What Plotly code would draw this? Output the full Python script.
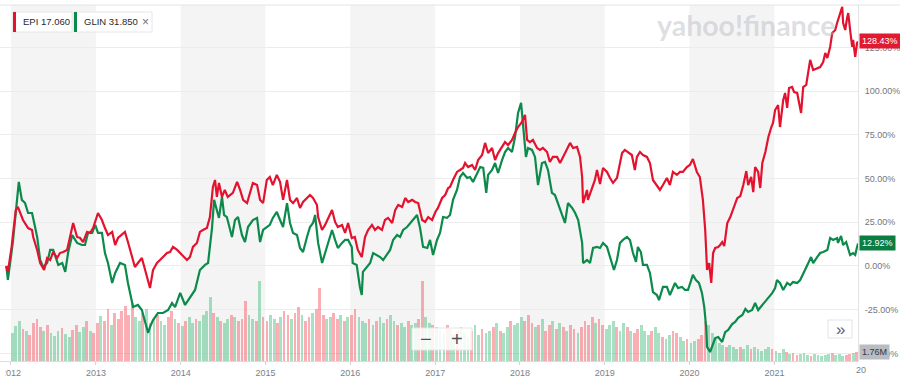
import plotly.graph_objects as go
import pandas as pd

# ---------------- data ----------------
epi_dates = [
    "2011-12-12", "2011-12-19", "2012-01-04", "2012-01-22", "2012-01-31", "2012-02-09", "2012-02-22", "2012-03-15",
    "2012-04-01", "2012-04-06", "2012-04-23", "2012-05-06", "2012-05-23", "2012-06-05", "2012-06-18", "2012-07-01",
    "2012-07-18", "2012-07-30", "2012-08-13", "2012-08-30", "2012-09-12", "2012-09-25", "2012-10-12", "2012-10-25",
    "2012-11-07", "2012-11-24", "2012-12-07", "2012-12-20", "2013-01-10", "2013-01-27", "2013-02-09", "2013-02-22",
    "2013-03-12", "2013-03-25", "2013-04-06", "2013-04-23", "2013-05-06", "2013-05-19", "2013-06-05", "2013-06-18",
    "2013-07-01", "2013-07-18", "2013-08-01", "2013-08-22", "2013-09-04", "2013-09-21", "2013-10-04", "2013-10-17",
    "2013-11-03", "2013-11-16", "2013-11-29", "2013-12-17", "2013-12-30", "2014-01-11", "2014-01-28", "2014-02-10",
    "2014-02-23", "2014-03-12", "2014-03-25", "2014-04-07", "2014-04-24", "2014-05-07", "2014-05-16", "2014-05-20",
    "2014-05-29", "2014-06-06", "2014-06-15", "2014-06-28", "2014-07-10", "2014-07-23", "2014-08-14", "2014-09-01",
    "2014-09-14", "2014-09-27", "2014-10-14", "2014-10-27", "2014-11-08", "2014-11-26", "2014-12-09", "2014-12-22",
    "2015-01-07", "2015-01-20", "2015-02-02", "2015-02-19", "2015-03-05", "2015-03-18", "2015-04-04", "2015-04-17",
    "2015-04-30", "2015-05-17", "2015-05-30", "2015-06-12", "2015-06-29", "2015-07-12", "2015-07-25", "2015-08-11",
    "2015-08-16", "2015-09-02", "2015-09-15", "2015-09-28", "2015-10-15", "2015-10-28", "2015-11-09", "2015-11-27",
    "2015-12-10", "2015-12-23", "2016-01-08", "2016-01-21", "2016-02-03", "2016-02-20", "2016-03-05", "2016-03-18",
    "2016-04-04", "2016-04-17", "2016-04-30", "2016-05-17", "2016-05-30", "2016-06-12", "2016-06-30", "2016-07-13",
    "2016-07-26", "2016-08-12", "2016-08-25", "2016-09-07", "2016-09-24", "2016-10-07", "2016-10-20", "2016-11-06",
    "2016-11-19", "2016-12-02", "2016-12-19", "2017-01-02", "2017-01-13", "2017-01-31", "2017-02-13", "2017-02-26",
    "2017-03-06", "2017-03-19", "2017-04-05", "2017-04-18", "2017-05-01", "2017-05-10", "2017-05-23", "2017-06-09",
    "2017-06-22", "2017-07-05", "2017-07-22", "2017-08-04", "2017-08-17", "2017-09-03", "2017-09-16", "2017-09-29",
    "2017-10-16", "2017-10-29", "2017-11-11", "2017-11-28", "2017-12-11", "2017-12-24", "2018-01-10", "2018-01-23",
    "2018-02-01", "2018-02-13", "2018-02-26", "2018-03-16", "2018-03-28", "2018-04-10", "2018-04-28", "2018-05-10",
    "2018-05-23", "2018-06-10", "2018-06-23", "2018-07-06", "2018-07-23", "2018-08-05", "2018-08-18", "2018-09-04",
    "2018-09-17", "2018-09-26", "2018-09-30", "2018-10-17", "2018-10-21", "2018-11-07", "2018-11-20", "2018-11-29",
    "2018-12-12", "2018-12-25", "2019-01-11", "2019-01-24", "2019-02-06", "2019-02-23", "2019-03-08", "2019-03-17",
    "2019-03-29", "2019-04-11", "2019-04-28", "2019-05-11", "2019-05-20", "2019-06-02", "2019-06-15", "2019-07-02",
    "2019-07-15", "2019-07-28", "2019-08-14", "2019-08-27", "2019-09-09", "2019-09-26", "2019-10-09", "2019-10-22",
    "2019-11-08", "2019-11-21", "2019-12-04", "2019-12-21", "2020-01-03", "2020-01-16", "2020-02-02", "2020-02-15",
    "2020-02-28", "2020-03-09", "2020-03-17", "2020-03-26", "2020-04-04", "2020-04-12", "2020-04-21", "2020-05-04",
    "2020-05-12", "2020-05-21", "2020-05-30", "2020-06-12", "2020-06-25", "2020-07-08", "2020-07-25", "2020-08-07",
    "2020-08-20", "2020-09-02", "2020-09-10", "2020-09-23", "2020-10-02", "2020-10-10", "2020-10-23", "2020-11-01",
    "2020-11-10", "2020-11-23", "2020-12-06", "2020-12-19", "2020-12-26", "2021-01-04", "2021-01-17", "2021-01-25",
    "2021-02-08", "2021-02-16", "2021-02-25", "2021-03-05", "2021-03-18", "2021-03-27", "2021-04-09", "2021-04-26",
    "2021-05-05", "2021-05-18", "2021-05-27", "2021-06-04", "2021-06-17", "2021-07-04", "2021-07-17", "2021-07-30",
    "2021-08-08", "2021-08-17", "2021-08-29", "2021-09-07", "2021-09-20", "2021-09-28", "2021-10-07", "2021-10-20",
    "2021-10-24", "2021-11-02", "2021-11-10", "2021-11-15", "2021-11-23", "2021-12-02", "2021-12-06", "2021-12-15",
    "2021-12-23", "2021-12-27",
]
epi_pct = [
    0.0, -3.4, 10.9, 32.0, 33.8, 30.3, 26.3, 21.7,
    20.6, 16.6, 9.2, 1.7, -2.3, 4.6, 3.4, 8.0,
    4.6, 7.4, 8.0, 9.2, 16.6, 24.6, 16.6, 16.0,
    13.7, 19.5, 18.9, 21.7, 30.3, 26.3, 21.7, 17.7,
    19.5, 12.0, 16.0, 17.7, 19.5, 13.7, 5.1, -0.6,
    1.7, 4.6, -2.3, -12.6, -2.3, 1.7, 3.4, 5.1,
    7.4, 8.0, 10.9, 9.2, 7.4, 6.3, 3.4, 5.1,
    10.9, 13.2, 19.5, 20.6, 21.7, 28.0, 39.5, 45.2,
    49.2, 39.5, 47.5, 39.5, 43.5, 39.5, 41.8, 48.1,
    43.5, 37.8, 36.0, 41.8, 47.5, 46.3, 37.8, 36.0,
    49.2, 50.9, 46.3, 52.1, 48.1, 37.8, 49.2, 37.8,
    36.0, 38.9, 33.2, 36.6, 38.9, 40.6, 38.9, 34.9,
    28.0, 20.6, 23.5, 27.5, 32.0, 25.2, 22.3, 23.5,
    18.9, 24.6, 16.0, 16.6, 9.2, 5.1, 16.6, 20.6,
    23.5, 20.6, 22.3, 20.6, 26.3, 27.5, 24.6, 32.0,
    34.9, 33.8, 38.9, 36.6, 37.8, 36.6, 36.0, 26.3,
    25.2, 28.0, 26.3, 30.9, 33.2, 38.9, 40.6, 44.6,
    45.2, 49.2, 53.8, 54.9, 56.1, 58.9, 56.6, 57.8,
    54.9, 60.6, 63.5, 70.4, 64.6, 67.5, 60.6, 64.6,
    68.1, 70.9, 69.2, 72.1, 76.1, 79.5, 82.4, 86.4,
    72.1, 70.9, 72.1, 67.5, 66.4, 67.5, 65.2, 59.5,
    62.4, 62.4, 58.9, 62.4, 67.5, 70.4, 67.5, 68.1,
    62.4, 50.9, 36.0, 43.5, 37.8, 44.6, 49.2, 54.9,
    46.9, 56.1, 53.8, 50.3, 47.5, 50.3, 58.9, 64.6,
    66.4, 65.2, 63.5, 54.9, 62.4, 65.2, 63.5, 62.4,
    58.9, 49.2, 46.3, 43.5, 46.3, 50.3, 46.3, 53.8,
    52.1, 53.8, 53.8, 56.6, 57.8, 61.2, 53.8, 50.9,
    37.8, 20.6, -2.3, 1.7, -9.7, 7.4, 10.3, 10.9,
    12.0, 13.7, 11.4, 24.6, 28.0, 32.6, 38.9, 40.0,
    46.3, 54.3, 46.3, 50.9, 42.3, 56.6, 53.8, 44.6,
    58.9, 65.2, 73.8, 79.5, 81.8, 89.2, 92.1, 79.5,
    95.0, 99.0, 90.4, 101.8, 102.4, 99.5, 99.0, 87.5,
    102.4, 103.6, 112.1, 117.9, 112.1, 113.3, 113.8, 116.7,
    121.9, 119.0, 125.3, 133.3, 135.0, 139.0, 142.4, 148.2,
    139.0, 135.0, 141.9, 144.7, 135.0, 125.3, 129.3, 119.6,
    127.6, 128.43,
]

glin_dates = [
    "2011-12-12", "2011-12-19", "2012-01-09", "2012-01-26", "2012-02-04", "2012-02-17", "2012-03-02", "2012-03-15",
    "2012-04-01", "2012-04-14", "2012-04-23", "2012-05-06", "2012-05-19", "2012-06-05", "2012-06-18", "2012-07-01",
    "2012-07-23", "2012-08-09", "2012-08-22", "2012-09-03", "2012-09-21", "2012-10-12", "2012-11-02", "2012-11-15",
    "2012-11-28", "2012-12-16", "2012-12-29", "2013-01-10", "2013-01-27", "2013-02-09", "2013-02-22", "2013-03-12",
    "2013-03-25", "2013-04-15", "2013-05-06", "2013-05-19", "2013-06-10", "2013-07-01", "2013-07-18", "2013-08-01",
    "2013-08-14", "2013-08-22", "2013-09-04", "2013-09-25", "2013-10-17", "2013-11-08", "2013-11-25", "2013-12-08",
    "2013-12-30", "2014-01-20", "2014-02-10", "2014-03-04", "2014-03-25", "2014-04-16", "2014-04-29", "2014-05-16",
    "2014-05-25", "2014-06-06", "2014-06-15", "2014-06-28", "2014-07-07", "2014-07-19", "2014-07-28", "2014-08-10",
    "2014-08-23", "2014-09-05", "2014-09-22", "2014-10-05", "2014-10-18", "2014-11-08", "2014-11-26", "2014-12-09",
    "2014-12-22", "2015-01-07", "2015-01-20", "2015-02-02", "2015-02-19", "2015-03-05", "2015-03-18", "2015-04-04",
    "2015-04-17", "2015-04-30", "2015-05-17", "2015-05-30", "2015-06-12", "2015-06-29", "2015-07-12", "2015-07-25",
    "2015-08-03", "2015-08-16", "2015-09-02", "2015-09-15", "2015-09-28", "2015-10-15", "2015-10-28", "2015-11-09",
    "2015-11-27", "2015-12-10", "2015-12-23", "2016-01-08", "2016-01-12", "2016-01-29", "2016-02-12", "2016-02-20",
    "2016-02-25", "2016-03-14", "2016-03-27", "2016-04-09", "2016-04-26", "2016-05-09", "2016-05-22", "2016-06-08",
    "2016-06-21", "2016-07-04", "2016-07-21", "2016-08-03", "2016-08-16", "2016-09-02", "2016-09-15", "2016-09-28",
    "2016-10-15", "2016-10-28", "2016-11-10", "2016-11-28", "2016-12-10", "2016-12-23", "2017-01-09", "2017-01-22",
    "2017-02-04", "2017-02-21", "2017-03-06", "2017-03-19", "2017-04-05", "2017-04-18", "2017-05-01", "2017-05-19",
    "2017-05-31", "2017-06-13", "2017-07-01", "2017-07-14", "2017-07-27", "2017-08-09", "2017-08-17", "2017-09-03",
    "2017-09-16", "2017-09-29", "2017-10-16", "2017-10-29", "2017-11-11", "2017-11-28", "2017-12-11", "2017-12-24",
    "2018-01-06", "2018-01-14", "2018-01-27", "2018-02-05", "2018-02-22", "2018-03-07", "2018-03-20", "2018-04-06",
    "2018-04-19", "2018-05-02", "2018-05-19", "2018-06-01", "2018-06-14", "2018-07-01", "2018-07-14", "2018-07-27",
    "2018-08-14", "2018-08-27", "2018-09-09", "2018-09-26", "2018-09-30", "2018-10-17", "2018-10-30", "2018-11-12",
    "2018-11-29", "2018-12-12", "2018-12-25", "2019-01-11", "2019-01-24", "2019-02-10", "2019-02-23", "2019-03-08",
    "2019-03-21", "2019-04-07", "2019-04-20", "2019-05-03", "2019-05-16", "2019-05-24", "2019-06-06", "2019-06-15",
    "2019-07-02", "2019-07-15", "2019-07-28", "2019-08-14", "2019-08-23", "2019-09-09", "2019-09-26", "2019-10-09",
    "2019-10-31", "2019-11-13", "2019-11-30", "2019-12-13", "2019-12-26", "2020-01-16", "2020-01-29", "2020-02-11",
    "2020-02-24", "2020-03-05", "2020-03-13", "2020-03-17", "2020-03-30", "2020-04-12", "2020-04-21", "2020-05-04",
    "2020-05-21", "2020-06-03", "2020-06-16", "2020-07-03", "2020-07-16", "2020-07-29", "2020-08-16", "2020-08-29",
    "2020-09-10", "2020-09-27", "2020-10-10", "2020-10-23", "2020-11-10", "2020-12-01", "2020-12-23", "2021-01-04",
    "2021-01-12", "2021-01-25", "2021-02-08", "2021-02-25", "2021-03-10", "2021-03-22", "2021-04-09", "2021-04-22",
    "2021-05-05", "2021-05-18", "2021-05-27", "2021-06-08", "2021-06-17", "2021-07-04", "2021-07-17", "2021-07-30",
    "2021-08-17", "2021-08-29", "2021-09-11", "2021-09-28", "2021-10-02", "2021-10-15", "2021-10-24", "2021-11-06",
    "2021-11-15", "2021-11-23", "2021-12-06", "2021-12-15", "2021-12-23", "2021-12-27",
]
glin_pct = [
    0.0, -8.0, 13.2, 36.0, 48.1, 37.8, 36.0, 30.3,
    30.3, 22.3, 16.6, 3.4, -0.6, 1.7, 9.2, 9.2,
    0.6, 1.7, -3.4, 7.4, 17.7, 13.2, 12.0, 12.0,
    18.9, 18.9, 23.5, 18.9, 18.9, 7.4, 1.7, -9.7,
    -4.0, 1.7, 0.6, -9.7, -23.5, -22.3, -25.2, -32.0,
    -38.3, -34.9, -30.9, -26.9, -26.9, -25.2, -21.2, -23.5,
    -15.4, -22.3, -17.7, -13.7, -2.3, 0.6, 1.7, 21.7,
    37.8, 32.0, 27.5, 39.5, 29.2, 28.0, 23.5, 16.6,
    26.3, 28.0, 17.7, 13.7, 22.3, 26.3, 27.5, 13.7,
    20.6, 22.3, 23.5, 27.5, 30.9, 26.3, 22.3, 36.0,
    24.6, 18.9, 17.7, 10.3, 8.0, 16.6, 22.3, 24.6,
    29.2, 13.2, 1.7, 7.4, 13.2, 20.6, 14.9, 10.3,
    13.2, 14.9, 14.9, 10.9, 1.7, 0.6, -12.0, -16.6,
    -3.4, -0.6, 1.7, 7.4, 6.3, 5.1, 3.4, 6.3,
    9.2, 14.9, 17.7, 16.6, 20.6, 22.3, 24.6, 26.3,
    29.2, 21.7, 10.9, 10.3, 14.9, 6.3, 14.9, 18.9,
    28.0, 27.5, 29.2, 37.8, 43.5, 50.9, 53.2, 50.3,
    50.9, 48.1, 53.2, 56.6, 56.1, 41.8, 52.1, 54.9,
    58.9, 53.2, 60.6, 65.2, 67.5, 65.2, 73.8, 87.5,
    93.3, 81.8, 62.4, 67.5, 66.4, 62.4, 46.3, 58.9,
    59.5, 54.9, 41.8, 40.6, 36.0, 30.3, 24.6, 36.0,
    33.2, 30.3, 26.3, 13.2, 1.7, 3.4, 1.7, 10.3,
    10.9, 10.3, 13.2, 10.9, 5.1, -2.3, 3.4, 13.2,
    14.9, 16.6, 14.9, 7.4, 2.3, 10.9, 8.0, 0.6,
    0.6, -4.0, -14.9, -16.6, -19.5, -12.0, -12.0, -16.6,
    -9.7, -12.6, -12.0, -13.7, -13.7, -5.1, -8.0, -9.7,
    -15.4, -23.5, -34.9, -46.3, -49.2, -44.1, -41.2, -40.6,
    -43.5, -37.8, -36.6, -33.2, -32.0, -29.7, -28.0, -24.6,
    -26.3, -25.2, -21.2, -25.2, -22.3, -19.5, -15.4, -12.6,
    -8.0, -9.7, -13.7, -9.7, -10.9, -9.2, -9.7, -8.0,
    -4.0, -0.6, 1.7, 5.1, 1.7, 5.1, 7.4, 8.0,
    9.2, 16.0, 14.9, 16.0, 13.2, 17.2, 12.0, 13.7,
    10.3, 6.3, 7.4, 6.3, 10.9, 12.92,
]

# EPI volume, millions of shares, two bars per month from Jan 2012 to Dec 2021
volume_m = [
    5.5, 6.9, 7.8, 6.3, 5.9, 5.1, 7.4, 8.2, 6.7, 5.9, 7.1, 5.5, 4.9, 5.9, 6.5, 5.3, 4.7, 6.1, 7.1, 5.7, 6.7, 7.8, 5.9, 5.5,
    7.4, 8.8, 7.8, 10.2, 7.1, 9.4, 8.2, 9.8, 10.8, 9.0, 11.4, 8.6, 7.8, 9.4, 10.2, 7.4, 8.2, 9.0, 7.8, 7.1, 8.6, 9.8, 8.2, 7.4,
    6.9, 7.8, 8.6, 7.4, 8.2, 7.8, 9.0, 9.8, 12.5, 9.4, 8.6, 7.8, 7.4, 8.2, 9.0, 8.6, 7.8, 8.2, 11.8, 9.0, 8.2, 7.8, 15.7, 8.6,
    7.8, 9.0, 8.2, 7.4, 8.6, 9.8, 9.0, 8.2, 9.4, 10.6, 9.0, 7.8, 8.6, 9.4, 10.2, 14.3, 9.0, 8.2, 8.6, 9.4, 8.2, 9.0, 7.8, 8.6,
    9.0, 10.2, 8.6, 7.8, 7.4, 8.2, 7.1, 7.8, 8.6, 7.4, 8.2, 9.0, 7.8, 7.1, 7.4, 6.7, 7.8, 7.1, 7.4, 8.2, 15.7, 8.6, 7.4, 7.1,
    6.7, 5.9, 5.5, 7.1, 6.3, 5.1, 5.9, 6.7, 5.5, 4.7, 5.9, 7.1, 5.1, 6.3, 5.5, 5.9, 6.7, 7.4, 5.9, 5.5, 6.7, 7.8, 7.1, 7.4,
    8.6, 7.8, 9.0, 7.4, 6.7, 7.1, 8.2, 5.9, 7.1, 7.8, 6.3, 7.4, 6.7, 5.9, 7.1, 6.3, 5.5, 6.7, 7.8, 7.1, 8.6, 7.4, 8.2, 7.1,
    6.3, 7.1, 7.8, 6.7, 5.9, 7.4, 6.7, 5.9, 5.5, 6.3, 7.1, 5.9, 5.1, 5.9, 6.7, 5.5, 4.7, 4.3, 5.1, 5.9, 5.5, 4.7, 3.9, 4.3,
    3.5, 3.9, 4.3, 5.1, 7.8, 7.1, 5.5, 4.3, 3.5, 3.1, 2.7, 3.1, 2.7, 2.4, 2.7, 2.4, 3.1, 2.4, 2.7, 2.4, 2.0, 2.4, 2.7, 2.4,
    2.0, 1.6, 2.4, 1.8, 1.4, 1.6, 1.2, 1.4, 1.6, 1.2, 1.0, 1.4, 1.2, 1.0, 1.2, 1.4, 1.6, 1.2, 1.4, 1.0, 1.2, 1.4, 1.6, 1.76,
]
# g = up period, r = down period (one letter per volume bar)
volume_dir = [
    "gggrgrrrrgrgggrggrrggrgr",  # 2012
    "rgrrgrrrrrrggrgggrggrrgr",  # 2013
    "grggrggggrgrggrgrrrggrgr",  # 2014
    "rggrgrrgrrgrrgrrrggrrgrg",  # 2015
    "rrgggrgrggrggrggrggrrggr",  # 2016
    "gggrggrgggrggrggrgrggrgg",  # 2017
    "grrrgrgrrgrgrgrrgrrrrgrr",  # 2018
    "gggrggrgrrgggrggrggrrggr",  # 2019
    "ggrrrgggggrgggrggrgggggr",  # 2020
    "gggrgrrgggrgggggrgggrrgr",  # 2021
]

year_ticks = ["2012-01-01", "2013-01-01", "2014-01-01", "2015-01-01", "2016-01-01",
              "2017-01-01", "2018-01-01", "2019-01-01", "2020-01-01", "2021-01-01"]
year_labels = ["2012", "2013", "2014", "2015", "2016", "2017", "2018", "2019", "2020", "2021"]
shaded_years = ["2012", "2014", "2016", "2018", "2020"]
pct_ticks = [-50, -25, 0, 25, 50, 75, 100, 125]
epi_price = "17.060"
glin_price = "31.850"

# ---------------- styling ----------------
RED = "#e3132f"
GREEN = "#0c8a4b"
VOL_UP = "rgba(72,190,128,0.48)"
VOL_DOWN = "rgba(246,96,106,0.50)"
FONT = "Liberation Sans"

PLOT_W, PLOT_TOP, PLOT_BOT = 858.0, 5.0, 361.0


def px_x(px):
    return px / PLOT_W


def px_y(py):
    return (PLOT_BOT - py) / (PLOT_BOT - PLOT_TOP)


vol_dates = pd.date_range("2012-01-01", periods=len(volume_m), freq="SMS") + pd.Timedelta(days=7)
vol_colors = [VOL_UP if c == "g" else VOL_DOWN for c in "".join(volume_dir)]

fig = go.Figure()
fig.add_trace(go.Bar(x=vol_dates, y=volume_m, marker=dict(color=vol_colors, line=dict(width=0)),
                     width=12 * 86400000, yaxis="y", hoverinfo="skip"))
fig.add_trace(go.Scatter(x=glin_dates, y=glin_pct, mode="lines", name="GLIN",
                         line=dict(color=GREEN, width=2.2), yaxis="y2"))
fig.add_trace(go.Scatter(x=epi_dates, y=epi_pct, mode="lines", name="EPI",
                         line=dict(color=RED, width=2.2), yaxis="y2"))

shapes = []
for yr in shaded_years:
    shapes.append(dict(type="rect", xref="x", yref="paper", x0=f"{yr}-01-01", x1=f"{int(yr) + 1}-01-01",
                       y0=0, y1=1, fillcolor="#f4f4f4", line=dict(width=0), layer="below"))
# top border line
shapes.append(dict(type="line", xref="paper", yref="paper", x0=0, x1=900 / PLOT_W, y0=1, y1=1,
                   line=dict(color="#e4e4e4", width=1), layer="above"))
# legend chips
shapes += [
    dict(type="rect", xref="paper", yref="paper", x0=px_x(13), x1=px_x(72), y0=px_y(32), y1=px_y(12),
         fillcolor="white", line=dict(color="#e6e6e6", width=1), layer="above"),
    dict(type="rect", xref="paper", yref="paper", x0=px_x(13), x1=px_x(16), y0=px_y(32), y1=px_y(12),
         fillcolor=RED, line=dict(width=0), layer="above"),
    dict(type="rect", xref="paper", yref="paper", x0=px_x(74), x1=px_x(152), y0=px_y(32), y1=px_y(12),
         fillcolor="white", line=dict(color="#e6e6e6", width=1), layer="above"),
    dict(type="rect", xref="paper", yref="paper", x0=px_x(74), x1=px_x(77), y0=px_y(32), y1=px_y(12),
         fillcolor=GREEN, line=dict(width=0), layer="above"),
]
# zoom control box and expand button
shapes += [
    dict(type="rect", xref="paper", yref="paper", x0=px_x(412), x1=px_x(472), y0=px_y(350), y1=px_y(328),
         fillcolor="rgba(255,255,255,0.85)", line=dict(color="#e6e6e6", width=1), layer="above"),
    dict(type="rect", xref="paper", yref="paper", x0=px_x(828), x1=px_x(852), y0=px_y(338), y1=px_y(320),
         fillcolor="white", line=dict(color="#e2e4e8", width=1), layer="above"),
]
# hide the clipped first character of the first year label, as in the reference
shapes.append(dict(type="rect", xref="paper", yref="paper", x0=-0.01, x1=px_x(5.5), y0=px_y(378), y1=px_y(362),
                   fillcolor="white", line=dict(width=0), layer="above"))

annotations = [
    dict(xref="paper", yref="paper", x=px_x(655), y=px_y(25), xanchor="left", yanchor="middle",
         text="yahoo!finance", showarrow=False,
         font=dict(family="Lato", size=28.5, weight="bold", color="rgba(180,183,190,0.45)")),
    dict(xref="paper", yref="paper", x=px_x(21), y=px_y(22), xanchor="left", yanchor="middle",
         text=f"EPI {epi_price}", showarrow=False, font=dict(family=FONT, size=9.5, color="#232a31")),
    dict(xref="paper", yref="paper", x=px_x(82), y=px_y(22), xanchor="left", yanchor="middle",
         text=f"GLIN {glin_price}", showarrow=False, font=dict(family=FONT, size=9.5, color="#232a31")),
    dict(xref="paper", yref="paper", x=px_x(145.5), y=px_y(22), xanchor="center", yanchor="middle",
         text="×", showarrow=False, font=dict(family=FONT, size=12, color="#6e7379")),
    dict(xref="paper", yref="paper", x=px_x(426), y=px_y(339), xanchor="center", yanchor="middle",
         text="−", showarrow=False, font=dict(family=FONT, size=20, color="#4f545a")),
    dict(xref="paper", yref="paper", x=px_x(457), y=px_y(339), xanchor="center", yanchor="middle",
         text="+", showarrow=False, font=dict(family=FONT, size=20, color="#4f545a")),
    dict(xref="paper", yref="paper", x=px_x(840), y=px_y(329), xanchor="center", yanchor="middle",
         text="»", showarrow=False, font=dict(family=FONT, size=17, color="#5b6168")),
    dict(xref="paper", yref="y2", x=px_x(859), y=epi_pct[-1], xanchor="left", yanchor="middle",
         text=f"{epi_pct[-1]:.2f}%", showarrow=False, bgcolor="#e21a31", borderpad=2,
         font=dict(family=FONT, size=9, color="white")),
    dict(xref="paper", yref="y2", x=px_x(859), y=glin_pct[-1], xanchor="left", yanchor="middle",
         text=f"{glin_pct[-1]:.2f}%", showarrow=False, bgcolor="#0b7d41", borderpad=2,
         font=dict(family=FONT, size=9, color="white")),
    dict(xref="paper", yref="y", x=px_x(859), y=volume_m[-1], xanchor="left", yanchor="middle",
         text=f"{volume_m[-1]:.2f}M", showarrow=False, bgcolor="#b9bcc3", borderpad=2,
         font=dict(family=FONT, size=9, color="#33373c")),
    dict(xref="paper", yref="paper", x=px_x(853.5), y=px_y(370), xanchor="left", yanchor="middle",
         text="20", showarrow=False, font=dict(family=FONT, size=9, color="#7b8088")),
]

fig.update_layout(
    width=900, height=378,
    margin=dict(l=0, r=900 - PLOT_W, t=PLOT_TOP, b=378 - PLOT_BOT, pad=0),
    paper_bgcolor="white", plot_bgcolor="white",
    showlegend=False, bargap=0,
    font=dict(family=FONT, size=9, color="#7b8088"),
    xaxis=dict(type="date", range=["2011-11-15", "2021-12-27"], tickvals=year_ticks, ticktext=year_labels,
               showgrid=False, zeroline=False, showline=True, linecolor="#dcdcdc", linewidth=1,
               ticks="outside", ticklen=3, tickcolor="#d5d5d5",
               tickfont=dict(family=FONT, size=9, color="#7b8088")),
    yaxis=dict(range=[0, 69.8], visible=False, fixedrange=True),
    yaxis2=dict(overlaying="y", side="right", range=[-54.35, 149.3], tickvals=pct_ticks,
                ticktext=[f"{v:.2f}%" for v in pct_ticks], showgrid=True, gridcolor="#ececec", gridwidth=1,
                zeroline=False, showline=True, linecolor="#e2e2e2", linewidth=1, ticks="",
                ticklabelstandoff=4, tickfont=dict(family=FONT, size=9, color="#72777e")),
    shapes=shapes,
    annotations=annotations,
)

fig.write_html("out.html", config={"displayModeBar": False},
               post_script="document.body.style.margin='0px';document.body.style.padding='0px';")
